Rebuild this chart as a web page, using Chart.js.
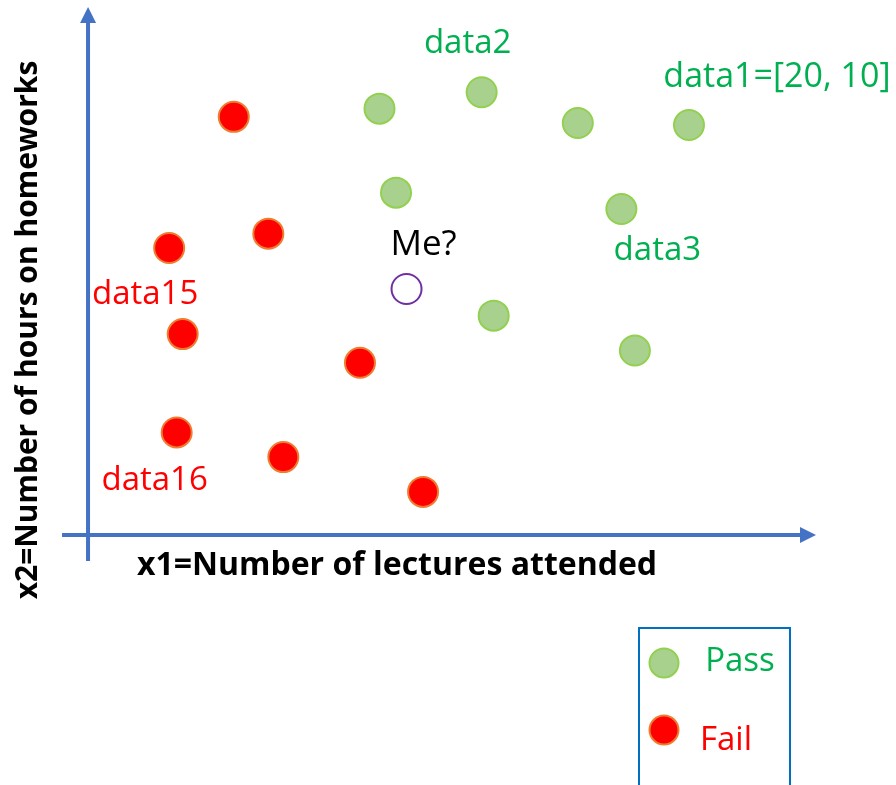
<!DOCTYPE html>
<html>
<head>
<meta charset="utf-8">
<script src="https://cdn.jsdelivr.net/npm/chart.js@4"></script>
<style>
  html, body { margin: 0; padding: 0; background: #fff; }
  #wrap { width: 896px; height: 785px; }
</style>
</head>
<body>
<div id="wrap"><canvas id="chart"></canvas></div>
<script>
// x1 = lectures attended, x2 = hours on homeworks
const passX1 = [9.7, 13.1, 16.3, 20, 10.25, 17.75, 13.5, 18.2];
const passX2 = [10.4, 10.8, 10.05, 10, 8.35, 7.95, 5.35, 4.5];
const failX1 = [4.85, 2.7, 6.0, 3.15, 9.05, 2.95, 6.5, 11.15];
const failX2 = [10.2, 7.0, 7.35, 4.9, 4.2, 2.5, 1.9, 1.05];
const meX1 = [10.6];
const meX2 = [6.0];

const toPoints = (xs, ys) => xs.map((x, i) => ({ x: x, y: ys[i] }));

const FONT = '"Open Sans", "Noto Sans", sans-serif';
const GREEN_TXT = '#00B050';
const RED_TXT = '#FF0000';
const AXIS = '#4472C4';

// text labels tied to points: dataset, index, text, colour, size, pixel offset
const notes = [
  { ds: 0, i: 1, text: 'data2', color: GREEN_TXT, size: 33, dx: -14, dy: -49 },
  { ds: 0, i: 3, text: 'data1=[20, 10]', color: GREEN_TXT, size: 34, dx: 88, dy: -48 },
  { ds: 0, i: 5, text: 'data3', color: GREEN_TXT, size: 33, dx: 36, dy: 42 },
  { ds: 1, i: 1, text: 'data15', color: RED_TXT, size: 33, dx: -24, dy: 47 },
  { ds: 1, i: 5, text: 'data16', color: RED_TXT, size: 33, dx: -22, dy: 48 },
  { ds: 2, i: 0, text: 'Me?', color: '#000000', size: 35, dx: 17, dy: -44 }
];

const arrowHead = (ctx, x, y, dir) => {
  ctx.beginPath();
  if (dir === 'up') {
    ctx.moveTo(x, y); ctx.lineTo(x - 8, y + 16); ctx.lineTo(x + 8, y + 16);
  } else {
    ctx.moveTo(x, y); ctx.lineTo(x - 16, y - 8); ctx.lineTo(x - 16, y + 8);
  }
  ctx.closePath();
  ctx.fill();
};

const decor = {
  id: 'decor',
  beforeDatasetsDraw(chart) {
    const ctx = chart.ctx;
    const xs = chart.scales.x, ys = chart.scales.y;
    const ox = xs.getPixelForValue(0), oy = ys.getPixelForValue(0);
    ctx.save();
    ctx.strokeStyle = AXIS;
    ctx.fillStyle = AXIS;
    ctx.lineWidth = 4;
    ctx.beginPath();
    ctx.moveTo(ox, oy + 26); ctx.lineTo(ox, 22);
    ctx.moveTo(ox - 26, oy); ctx.lineTo(800, oy);
    ctx.stroke();
    arrowHead(ctx, ox, 7, 'up');
    arrowHead(ctx, 816, oy, 'right');

    ctx.fillStyle = '#000';
    ctx.textAlign = 'center';
    ctx.textBaseline = 'middle';
    ctx.font = 'bold 32px ' + FONT;
    ctx.fillText('x1=Number of lectures attended', 397, 566);
    ctx.font = 'bold 30px ' + FONT;
    ctx.translate(28, 330);
    ctx.rotate(-Math.PI / 2);
    ctx.fillText('x2=Number of hours on homeworks', 0, 0);
    ctx.restore();
  },
  afterDatasetsDraw(chart) {
    const ctx = chart.ctx;
    ctx.save();
    ctx.textAlign = 'center';
    ctx.textBaseline = 'middle';
    notes.forEach(n => {
      const el = chart.getDatasetMeta(n.ds).data[n.i];
      ctx.font = n.size + 'px ' + FONT;
      ctx.fillStyle = n.color;
      ctx.fillText(n.text, el.x + n.dx, el.y + n.dy);
    });

    // legend box
    ctx.strokeStyle = '#0070C0';
    ctx.lineWidth = 2;
    ctx.strokeRect(639, 628, 151, 170);
    ctx.font = '33px ' + FONT;
    const marks = [
      { y: 663, fill: '#A9D18E', border: '#92D050', text: 'Pass', color: GREEN_TXT, tx: 740, ty: 662 },
      { y: 730, fill: '#FF0000', border: '#ED7D31', text: 'Fail', color: RED_TXT, tx: 726, ty: 741 }
    ];
    marks.forEach(m => {
      ctx.beginPath();
      ctx.arc(664, m.y, 14.5, 0, Math.PI * 2);
      ctx.fillStyle = m.fill;
      ctx.fill();
      ctx.strokeStyle = m.border;
      ctx.lineWidth = 2;
      ctx.stroke();
      ctx.fillStyle = m.color;
      ctx.fillText(m.text, m.tx, m.ty);
    });
    ctx.restore();
  }
};

new Chart(document.getElementById('chart'), {
  type: 'scatter',
  data: {
    datasets: [
      { label: 'Pass', data: toPoints(passX1, passX2), backgroundColor: '#A9D18E', borderColor: '#92D050', borderWidth: 2, pointRadius: 15, pointHoverRadius: 15 },
      { label: 'Fail', data: toPoints(failX1, failX2), backgroundColor: '#FF0000', borderColor: '#ED7D31', borderWidth: 2, pointRadius: 15, pointHoverRadius: 15 },
      { label: 'Me', data: toPoints(meX1, meX2), backgroundColor: 'rgba(255,255,255,0)', borderColor: '#7030A0', borderWidth: 2, pointRadius: 15, pointHoverRadius: 15 }
    ]
  },
  options: {
    responsive: true,
    maintainAspectRatio: false,
    animation: false,
    layout: { padding: 0, autoPadding: false },
    plugins: { legend: { display: false }, tooltip: { enabled: false } },
    scales: {
      x: { type: 'linear', display: false, min: -2.93, max: 26.89 },
      y: { type: 'linear', display: false, min: -6.1, max: 13.05 }
    }
  },
  plugins: [decor]
});
</script>
</body>
</html>
